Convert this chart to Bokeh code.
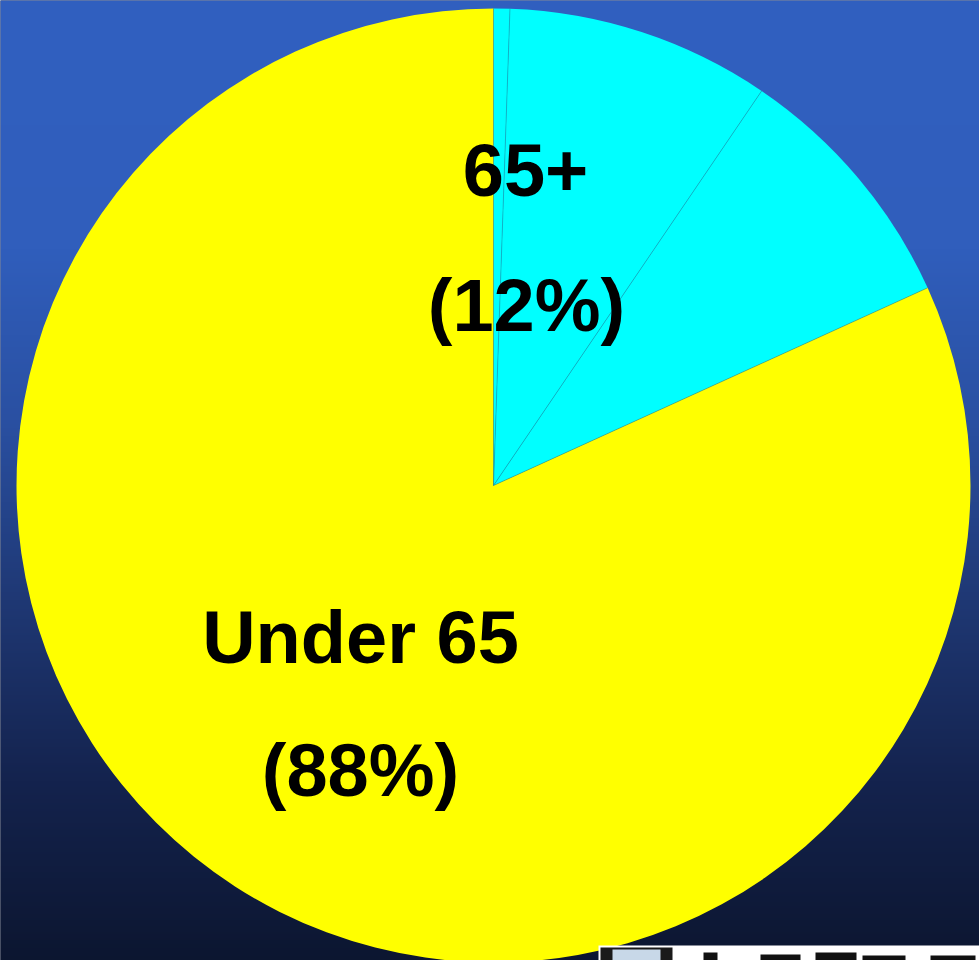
import numpy as np
from bokeh.plotting import figure
from bokeh.models import Range1d
from bokeh.core.properties import value
from bokeh.embed import file_html
from bokeh.resources import INLINE

# ---- data (shares as drawn in the picture, clockwise from 12 o'clock) ----
slice_names = ["65+ (a)", "65+ (b)", "65+ (c)", "Under 65"]
slice_values = [0.55, 8.95, 8.70, 81.80]
slice_colors = ["#00FFFF", "#00FFFF", "#00FFFF", "#FFFF00"]
label_titles = ["65+", "Under 65"]
label_pcts = ["(12%)", "(88%)"]

W, H = 979, 960
p = figure(width=W, height=H, output_backend="svg", toolbar_location=None,
           x_range=Range1d(0, W), y_range=Range1d(0, H), min_border=0)
p.axis.visible = False
p.grid.visible = False
p.outline_line_color = None
p.background_fill_color = "#0c1630"
p.border_fill_color = "#0c1630"

# background gradient (page y 0..960)
stops_y = [0, 250, 420, 600, 780, 960]
stops_c = np.array([[49, 96, 192], [48, 94, 188], [42, 80, 162],
                    [31, 56, 116], [20, 35, 78], [12, 22, 48]], dtype=float)
N = 480
rows = np.arange(N)
page_y = H - (rows + 0.5) * H / N
img = np.zeros((N, 1), dtype=np.uint32)
view = img.view(dtype=np.uint8).reshape((N, 1, 4))
for k in range(3):
    view[:, 0, k] = np.interp(page_y, stops_y, stops_c[:, k]).astype(np.uint8)
view[:, 0, 3] = 255
p.image_rgba(image=[img], x=-2, y=-2, dw=W + 4, dh=H + 4)

# pie
cx, cy, r = 493, 475, 477
vals = np.array(slice_values)
cum = np.concatenate([[0], np.cumsum(vals)]) / vals.sum() * 2 * np.pi
starts = np.pi / 2 - cum[1:]
ends = np.pi / 2 - cum[:-1]
p.wedge(x=cx, y=cy, radius=r, start_angle=list(starts), end_angle=list(ends),
        fill_color=slice_colors, line_color=None)
# slice dividers
p.ray(x=[cx] * len(ends), y=[cy] * len(ends), length=r, angle=list(ends),
      line_color="#1a8a9a", line_width=0.7, line_alpha=0.7)

# labels
font = value("Liberation Sans")
p.text(x=[525, 360], y=[791, 323], text=label_titles, text_font=font,
       text_font_size="74px", text_font_style="bold", text_color="black",
       text_align="center", text_baseline="alphabetic")
p.text(x=[526, 360], y=[655, 190], text=label_pcts, text_font=font,
       text_font_size="74px", text_font_style="bold", text_color="black",
       text_align="center", text_baseline="alphabetic")

# partial logo strip at bottom right (only its top edge is visible)
p.quad(left=598, right=W, bottom=0, top=15, fill_color="white", line_color=None)
p.quad(left=600, right=672, bottom=0, top=13, fill_color="#1a1a1a", line_color=None)
p.quad(left=612, right=660, bottom=0, top=11, fill_color="#c8d8e8", line_color=None)
p.quad(left=[703, 760, 815, 862, 930], right=[717, 800, 856, 905, 975],
       bottom=[0, 0, 0, 0, 0], top=[8, 6, 8, 5, 5],
       fill_color="#111111", line_color=None)

open("out.html", "w").write(file_html(p, INLINE))
